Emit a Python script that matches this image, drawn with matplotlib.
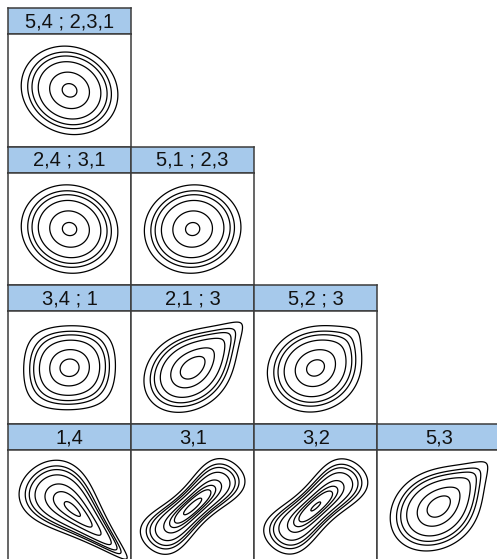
import math
import numpy as np
import matplotlib
matplotlib.use("Agg")
import matplotlib.pyplot as plt

plt.rcParams['font.family'] = ['Liberation Sans', 'DejaVu Sans']

# pair copulas of the vine, top tree first
labels = ["5,4 ; 2,3,1",
          "2,4 ; 3,1", "5,1 ; 2,3",
          "3,4 ; 1", "2,1 ; 3", "5,2 ; 3",
          "1,4", "3,1", "3,2", "5,3"]
families = ["gauss",
            "gauss", "gauss",
            "t", "gumbel", "gumbel",
            "clayton90", "frank", "frank", "gumbel"]
par = [-0.10,
       -0.06, 0.04,
       0.03, 1.35, 1.12,
       1.5, 8.5, 7.5, 1.3]
par2 = [0,
        0, 0,
        8, 0, 0,
        0, 0, 0, 0]
levels = [0.01, 0.02, 0.03, 0.05, 0.1, 0.15, 0.2, 0.3, 0.4, 0.5]

# grid positions of the panels (row from top, column from left)
rows = [0, 1, 1, 2, 2, 2, 3, 3, 3, 3]
cols = [0, 0, 1, 0, 1, 2, 0, 1, 2, 3]

xs = np.linspace(-3, 3, 241)
X, Y = np.meshgrid(xs, xs)
phi1 = np.exp(-xs**2 / 2) / math.sqrt(2 * math.pi)
Phi1 = 0.5 * (1 + np.vectorize(math.erf)(xs / math.sqrt(2)))
U, V = np.meshgrid(Phi1, Phi1)
PX, PY = np.meshgrid(phi1, phi1)


def t_quantile(u, nu):
    tt = np.linspace(-80, 80, 400001)
    f = (1 + tt**2 / nu) ** (-(nu + 1) / 2)
    cdf = np.concatenate([[0], np.cumsum((f[1:] + f[:-1]) / 2 * np.diff(tt))])
    cdf /= cdf[-1]
    return np.interp(u, cdf, tt)


def density(fam, p, p2):
    if fam == "gauss":
        q = (X**2 - 2 * p * X * Y + Y**2) / (1 - p**2)
        return np.exp(-q / 2) / (2 * math.pi * math.sqrt(1 - p**2))
    if fam == "t":
        tq = t_quantile(Phi1, p2)
        A, B = np.meshgrid(tq, tq)
        q = (A**2 - 2 * p * A * B + B**2) / (1 - p**2)
        f2 = (1 + q / p2) ** (-(p2 + 2) / 2) / (2 * math.pi * math.sqrt(1 - p**2))
        k = math.gamma((p2 + 1) / 2) / (math.sqrt(p2 * math.pi) * math.gamma(p2 / 2))
        fa = k * (1 + A**2 / p2) ** (-(p2 + 1) / 2)
        fb = k * (1 + B**2 / p2) ** (-(p2 + 1) / 2)
        return f2 / (fa * fb) * PX * PY
    if fam == "gumbel":
        a = -np.log(U)
        b = -np.log(V)
        s = a**p + b**p
        A = s ** (1 / p)
        c = np.exp(-A) / (U * V) * (a * b) ** (p - 1) / s ** (2 - 1 / p) * (A + p - 1)
        return c * PX * PY
    if fam == "frank":
        e = 1 - np.exp(-p)
        num = p * e * np.exp(-p * (U + V))
        den = (e - (1 - np.exp(-p * U)) * (1 - np.exp(-p * V))) ** 2
        return num / den * PX * PY
    if fam == "clayton90":
        u = 1 - U
        v = V
        c = (1 + p) * (u * v) ** (-1 - p) * (u**-p + v**-p - 1) ** (-1 / p - 2)
        return c * PX * PY


W, H = 497, 559
left0, top0 = 8, 8
cw, rh = 123.1, 138.7
hh = 26

fig = plt.figure(figsize=(W / 100, H / 100), dpi=100)
edge = '#3c3c3c'


def box(l, t, w, h):
    return [l / W, 1 - (t + h) / H, w / W, h / H]


for i in range(len(labels)):
    l = left0 + cw * cols[i]
    t = top0 + rh * rows[i]
    axh = fig.add_axes(box(l, t, cw, hh))
    axh.set_facecolor('#a6c9eb')
    axh.set_xticks([])
    axh.set_yticks([])
    for s in axh.spines.values():
        s.set_color(edge)
        s.set_linewidth(1.1)
    axh.text(0.5, 0.48, labels[i], ha='center', va='center', fontsize=14.5,
             transform=axh.transAxes, color='#111111')

    ax = fig.add_axes(box(l, t + hh, cw, rh - hh))
    Z = density(families[i], par[i], par2[i])
    ax.contour(xs, xs, Z, levels=levels, colors='black', linewidths=0.9)
    ax.set_xlim(-3, 3)
    ax.set_ylim(-3, 3)
    ax.set_xticks([])
    ax.set_yticks([])
    for s in ax.spines.values():
        s.set_color(edge)
        s.set_linewidth(1.1)

fig.savefig('out.png', dpi=100)
